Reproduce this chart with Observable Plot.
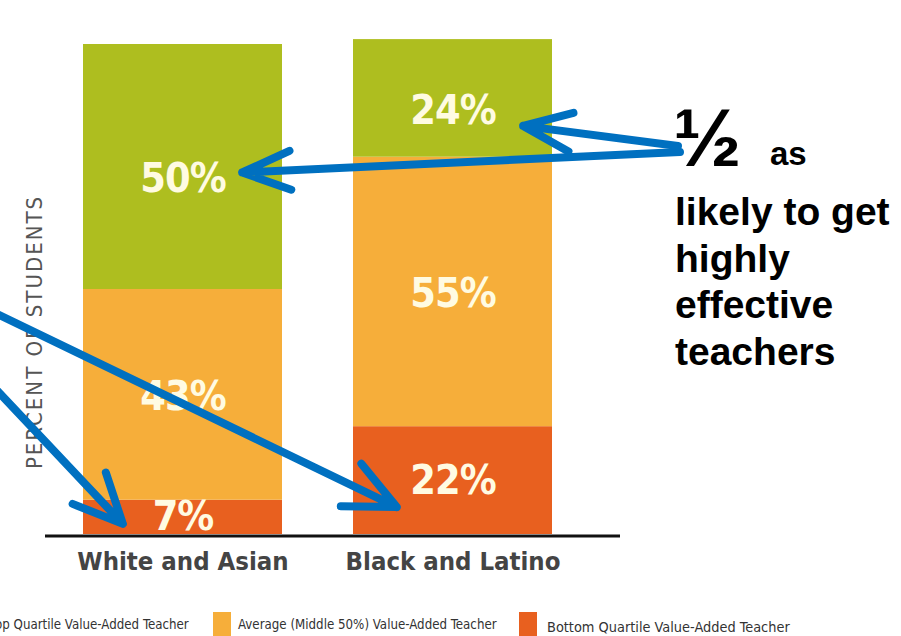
<!DOCTYPE html>
<html><head><meta charset="utf-8">
<script src="https://cdn.jsdelivr.net/npm/d3@7"></script>
<script src="https://cdn.jsdelivr.net/npm/@observablehq/plot@0.6"></script>
<style>
html,body{margin:0;padding:0;background:#fff;width:901px;height:636px;overflow:hidden;}
#wrap{position:relative;width:901px;height:636px;}
#legend{position:absolute;left:0;top:612px;width:901px;height:24px;font-family:"DejaVu Sans",sans-serif;font-stretch:condensed;font-size:13.2px;color:#333;}
.item{position:absolute;top:0;height:24px;display:flex;align-items:center;white-space:nowrap;}
.sw{width:18px;height:24px;margin-right:7px;flex:none;}
svg text{font-stretch:condensed;}
svg text.note{font-stretch:normal;}
</style></head><body><div id="wrap"><div id="chart"></div><div id="legend"></div></div>
<script>
// ---- data ----
const groups = ["White and Asian", "Black and Latino"];
const tiers = ["Top Quartile Value-Added Teacher", "Average (Middle 50%) Value-Added Teacher", "Bottom Quartile Value-Added Teacher"];
const topQuartile = [50, 24];
const averageMiddle = [43, 55];
const bottomQuartile = [7, 22];
const tierColors = ["#aebe1f", "#f6ae3a", "#e8601f"];
const yAxisLabel = "PERCENT OF STUDENTS";
const noteHalf = "½";
const noteLines = ["as", "likely to get", "highly", "effective", "teachers"];

// ---- table (stacked bottom→top) ----
const rows = [];
groups.forEach((g, i) => {
  let c = 0;
  [[tiers[2], bottomQuartile[i]], [tiers[1], averageMiddle[i]], [tiers[0], topQuartile[i]]].forEach(([t, v]) => {
    rows.push({group: g, tier: t, value: v, y1: c, y2: c + v, mid: c + v / 2});
    c += v;
  });
});
const labelDy = {[tiers[0]]: 12, [tiers[1]]: 2, [tiers[2]]: 0};
const font = "'DejaVu Sans',sans-serif";

const plot = Plot.plot({
  width: 901, height: 610,
  marginTop: 44, marginBottom: 76, marginLeft: 45, marginRight: 281,
  style: {background: "transparent", overflow: "visible"},
  x: {domain: groups, paddingInner: 0.263, paddingOuter: 0.196, align: 0.358, label: null},
  y: {domain: [0, 100], axis: null},
  color: {domain: tiers, range: tierColors},
  marks: [
    Plot.barY(rows, {x: "group", y1: "y1", y2: "y2", fill: "tier"}),
    Plot.text(rows, {
      x: "group", y: "mid", text: d => d.value + "%",
      fill: "#fffbe2", fontSize: 41, fontWeight: "bold", fontFamily: font
    }),
    Plot.ruleY([0], {stroke: "#111", strokeWidth: 3, dy: 1.5}),
    Plot.axisX({tickSize: 0, tickPadding: 17, fontSize: 25.5, fontWeight: "bold", fontFamily: font, fill: "#444", label: null})
  ]
});
document.getElementById("chart").appendChild(plot);

const svg = d3.select(plot);
// per-tier label offsets
svg.selectAll("g[aria-label='text'] text").each(function(_, i) {
  const r = rows[i];
  const el = d3.select(this);
  if (r) el.attr("transform", (el.attr("transform") || "") + ` translate(0,${labelDy[r.tier]})`).attr("letter-spacing", -1);
});

const xs = plot.scale("x"), ys = plot.scale("y");
const bw = xs.bandwidth;

// y-axis title
svg.append("text")
  .attr("transform", `translate(34,${ys.apply(0) - 202}) rotate(-90)`)
  .attr("text-anchor", "middle").attr("dominant-baseline", "central")
  .attr("font-family", font).attr("font-size", 22).attr("letter-spacing", 2).attr("fill", "#555")
  .text(yAxisLabel);

// arrows
const blue = "#0070c0";
function arrow(x0, y0, x1, y1, len, angDeg) {
  const a = Math.atan2(y0 - y1, x0 - x1), d = angDeg * Math.PI / 180;
  const b1 = [x1 + len * Math.cos(a - d), y1 + len * Math.sin(a - d)];
  const b2 = [x1 + len * Math.cos(a + d), y1 + len * Math.sin(a + d)];
  svg.append("path")
    .attr("d", `M${x0},${y0}L${x1},${y1}M${b1[0]},${b1[1]}L${x1},${y1}L${b2[0]},${b2[1]}`)
    .attr("fill", "none").attr("stroke", blue).attr("stroke-width", 8)
    .attr("stroke-linecap", "round").attr("stroke-linejoin", "round");
}
const g1 = xs.apply(groups[0]), g2 = xs.apply(groups[1]);
const r = (g, t) => rows.find(d => d.group === g && d.tier === t);
arrow(680, 152, g1 + 0.8 * bw, ys.apply(r(groups[0], tiers[0]).mid) + 6, 52, 22);
arrow(678, 146, g2 + 0.855 * bw, ys.apply(r(groups[1], tiers[0]).mid) + 28, 52, 22);
arrow(-100, 267, g2 + 0.22 * bw, ys.apply(r(groups[1], tiers[2]).mid) + 27, 56, 25);
arrow(-60, 330, g1 + 0.2 * bw, ys.apply(r(groups[0], tiers[2]).mid) + 7, 54, 25);

// annotation text
const sans = "'Liberation Sans',Arial,sans-serif";
function note(x, y, size, t) {
  svg.append("text").attr("class", "note").attr("x", x).attr("y", y).attr("text-anchor", "start")
    .attr("font-family", sans).attr("font-weight", "bold")
    .attr("font-size", size).attr("fill", "#000").text(t);
}
note(673, 166, 82, noteHalf);
note(770, 165, 33, noteLines[0]);
noteLines.slice(1).forEach((t, i) => note(675, 225 + i * 46.5, 39, t));

// legend
const legendLefts = [-35, 213, 519];
const legendSizes = [13.2, 13.2, 14.4];
const legend = d3.select("#legend");
tiers.forEach((t, i) => {
  const it = legend.append("div").attr("class", "item").style("left", legendLefts[i] + "px").style("font-size", legendSizes[i] + "px");
  it.append("div").attr("class", "sw").style("background", tierColors[i]).style("margin-right", i === 2 ? "10px" : "7px");
  it.append("span").text(t).style("padding-top", i === 2 ? "6px" : "0");
});
</script>
</body></html>
